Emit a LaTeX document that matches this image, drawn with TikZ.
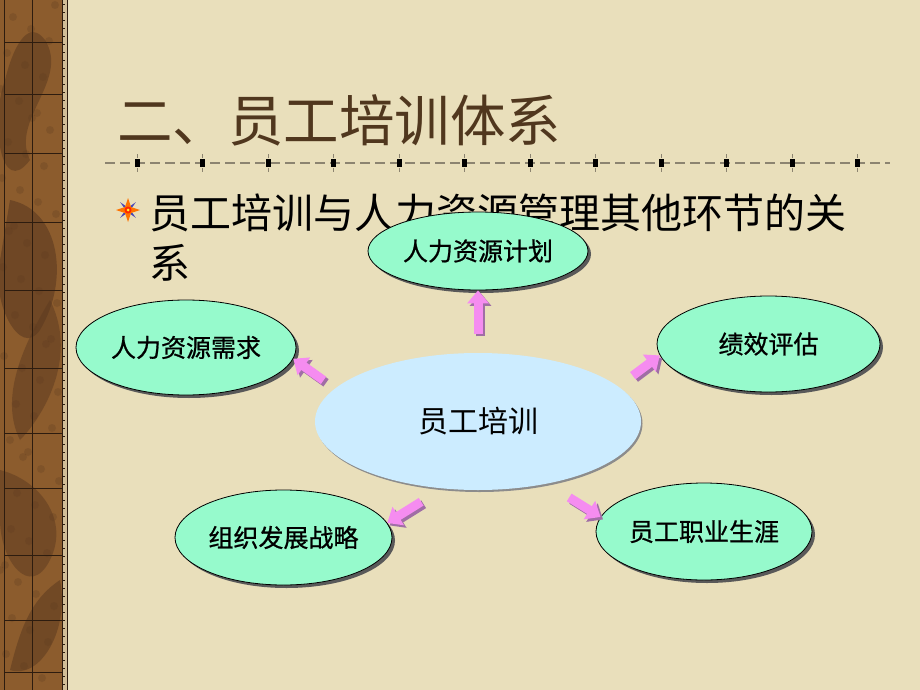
\documentclass[tikz,border=0pt]{standalone}
\usepackage{fontspec}
\newfontfamily\cjk{Noto Sans CJK SC}
\newfontfamily\cjkb[FakeBold=0.8]{Noto Sans CJK SC}
\usetikzlibrary{shapes.geometric,arrows.meta,shadows}
\definecolor{bg}{RGB}{233,223,187}
\definecolor{brownA}{RGB}{140,92,45}
\definecolor{brownD}{RGB}{92,58,32}
\definecolor{stripline}{RGB}{45,28,15}
\definecolor{titlecol}{RGB}{80,55,30}
\definecolor{greenfill}{RGB}{150,250,204}
\definecolor{bluefill}{RGB}{204,236,255}
\definecolor{pinkA}{RGB}{245,140,240}
\definecolor{pinkS}{RGB}{160,110,165}
\definecolor{dashcol}{RGB}{140,132,112}
\tikzset{
  outer/.style={ellipse, draw=black, line width=0.8pt, fill=greenfill, inner sep=0pt,
    drop shadow={shadow xshift=3pt, shadow yshift=-3pt, fill=black!65, opacity=1},
    font=\cjkb\fontsize{25}{30}\selectfont},
  central/.style={ellipse, fill=bluefill, inner sep=0pt,
    drop shadow={shadow xshift=1.5pt, shadow yshift=-2pt, fill=black!45, opacity=1},
    font=\cjk\fontsize{30}{36}\selectfont},
  arrowmain/.style={draw=pinkA, line width=9pt, -{Triangle[length=13pt,width=21pt]}},
  arrowshadow/.style={draw=pinkS, line width=9pt, -{Triangle[length=13pt,width=21pt]}},
  gridline/.style={draw=stripline, line width=0.8pt},
  titletext/.style={anchor=base west, inner sep=0pt, text=titlecol, font=\cjk\fontsize{55.5}{60}\selectfont},
  subtext/.style={anchor=base west, inner sep=0pt, text=black, font=\cjk\fontsize{41}{48}\selectfont},
}
\newcommand{\parrow}[3][]{%
  \draw[arrowshadow,#1,transform canvas={shift={(2.5pt,-2.5pt)}}] #2 -- #3;
  \draw[arrowmain,#1] #2 -- #3;}
\begin{document}
\begin{tikzpicture}[x=1pt,y=-1pt]
\useasboundingbox (0,0) rectangle (920,690);
\fill[bg] (0,0) rectangle (920,690);

% left decorative strip
\fill[brownA] (0,0) rectangle (68,690);
\begin{scope}
\clip (0,0) rectangle (62,690);
\fill[brownD, opacity=0.55] (45,40) .. controls (70,80) and (10,120) .. (30,160) .. controls (0,200) and (-10,120) .. (5,80) .. controls (15,40) and (30,20) .. (45,40);
\fill[brownD, opacity=0.6] (10,200) .. controls (60,210) and (70,280) .. (40,330) .. controls (20,360) and (-10,300) .. (0,260) -- cycle;
\fill[brownD, opacity=0.5] (50,300) .. controls (80,360) and (40,420) .. (20,440) .. controls (0,400) and (20,350) .. (50,300);
\fill[brownD, opacity=0.5] (0,470) .. controls (40,480) and (70,520) .. (50,560) .. controls (30,600) and (0,560) .. (0,520) -- cycle;
\fill[brownD, opacity=0.55] (60,580) .. controls (70,630) and (40,680) .. (10,670) .. controls (20,630) and (30,600) .. (60,580);
\foreach \i in {1,...,60} {
  \pgfmathsetmacro{\px}{mod(\i*37,60)}
  \pgfmathsetmacro{\py}{mod(\i*113,690)}
  \fill[brownD, opacity=0.25] (\px,\py) circle (4);
}
\end{scope}
\fill[bg!75!brownA] (62,0) rectangle (67,690);
\foreach \yy in {4,12,...,690} \draw[stripline, line width=0.6pt] (62,\yy) -- (64.5,\yy);
\draw[gridline] (4,0) -- (4,690);
\draw[gridline] (32,0) -- (32,690);
\draw[gridline] (62,0) -- (62,690);
\draw[stripline, line width=1.2pt] (67.5,0) -- (67.5,690);
\foreach \yy in {42,94,153,222,290,368,433,488,555,620,672}
  \draw[gridline] (4,\yy) -- (62,\yy);

% title
\node[titletext] (title) at (117,142) {二、员工培训体系};

% dashed rule with squares
\draw[dashcol, line width=2pt, dash pattern=on 10pt off 5pt] (105,163) -- (890,163);
\foreach \k in {0,...,11} {
  \fill[black] ({137+65.5*\k-2.5},159) rectangle ({137+65.5*\k+2.5},167);
  \draw[dashcol, line width=0.5pt] ({137+65.5*\k},154) -- ({137+65.5*\k},158);
  \draw[dashcol, line width=0.5pt] ({137+65.5*\k},168) -- ({137+65.5*\k},172);
}

% bullet
\begin{scope}[shift={(128,210)}]
  \foreach \a in {45,135,225,315}
    \fill[blue!45!gray, rotate=\a] (0,-2) -- (11,0) -- (0,2) -- cycle;
  \fill[orange!90!red] (0,-12) -- (3,-3) -- (12,0) -- (3,3) -- (0,12) -- (-3,3) -- (-12,0) -- (-3,-3) -- cycle;
  \fill[red!70!orange] (0,0) circle (3.5);
  \fill[yellow!80!white] (0,0) circle (1.5);
\end{scope}

% subtitle
\node[subtext] (sub1) at (149,228.5) {员工培训与人力资源管理其他环节的关};
\node[subtext] (sub2) at (149,278.5) {系};

% ellipses
\node[central, minimum width=326pt, minimum height=137pt] (c) at (478,421.5) {员工培训};
\node[outer, minimum width=220pt, minimum height=78pt] (plan) at (478,251) {人力资源计划};
\node[outer, minimum width=220pt, minimum height=95pt] (need) at (186,347.5) {人力资源需求};
\node[outer, minimum width=223pt, minimum height=96pt] (perf) at (768.5,344) {绩效评估};
\node[outer, minimum width=217pt, minimum height=95pt] (org) at (283.5,537.5) {组织发展战略};
\node[outer, minimum width=216pt, minimum height=97pt] (career) at (704,531.5) {员工职业生涯};

% arrows
\parrow[shorten <=19pt]{(c.90)}{(plan.-90)}
\parrow[shorten <=14pt]{(c.167.6)}{(need.-6.9)}
\parrow[shorten <=18pt]{(c.14.1)}{(perf.186.9)}
\parrow[shorten <=25pt]{(c.242.5)}{(org.8)}
\parrow[shorten <=26pt]{(c.-42.2)}{(career.172.9)}
\end{tikzpicture}
\end{document}
